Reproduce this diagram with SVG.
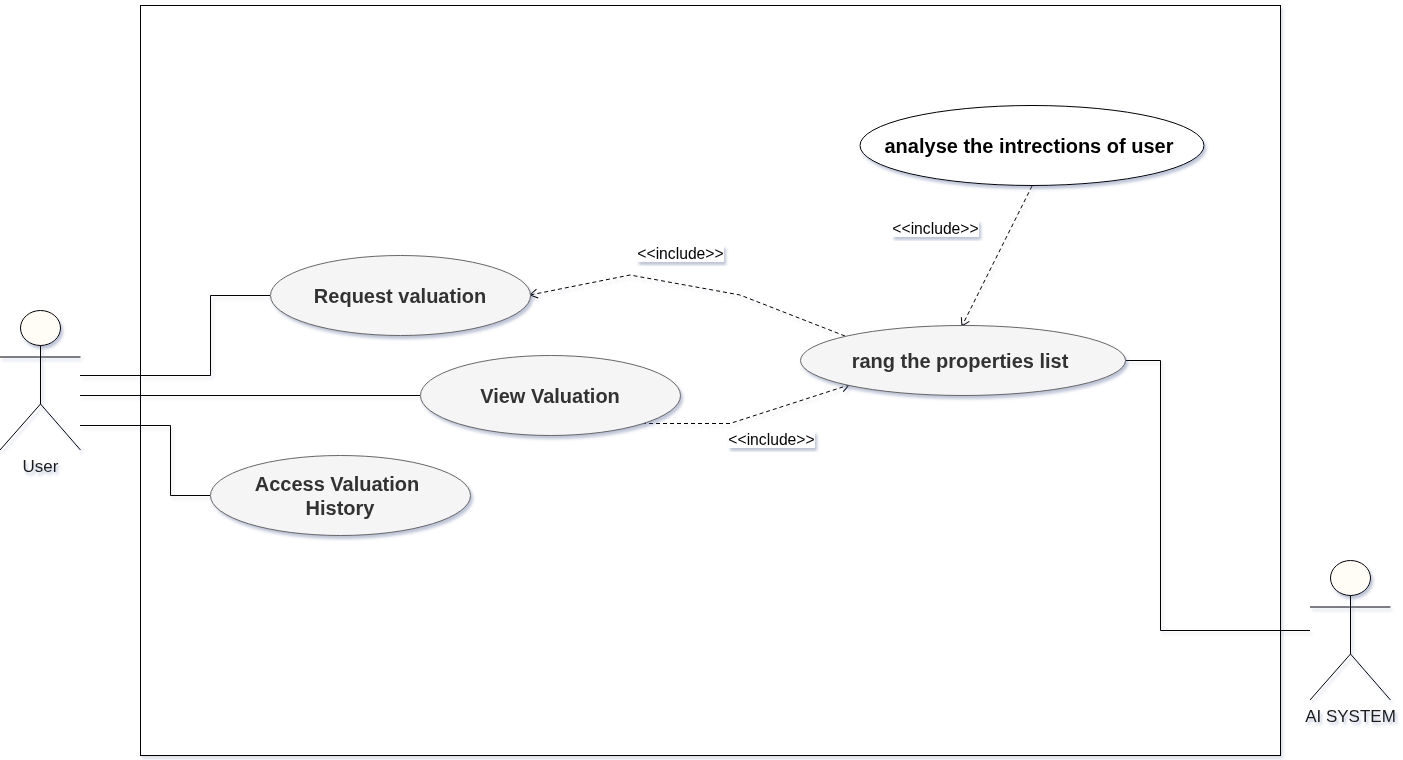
<svg xmlns="http://www.w3.org/2000/svg" width="1403" height="760" viewBox="0 0 1403 760">
<defs>
<filter id="sh" x="-20%" y="-20%" width="140%" height="140%" filterUnits="objectBoundingBox"><feDropShadow dx="2" dy="3" stdDeviation="1.5" flood-color="#5a6a9a" flood-opacity="0.4"/></filter>
<filter id="shl" filterUnits="userSpaceOnUse" x="0" y="0" width="1403" height="760"><feDropShadow dx="2" dy="3" stdDeviation="1.5" flood-color="#5a6a9a" flood-opacity="0.22"/></filter>
<marker id="open" markerUnits="userSpaceOnUse" markerWidth="14" markerHeight="14" refX="10" refY="7" orient="auto"><path d="M2.5 2.500L10 7L2.500 11.500" fill="none" stroke="#000" stroke-width="1"/></marker>
</defs>
<style>
text{font-family:"Liberation Sans",Arial,sans-serif;text-anchor:middle}
.uc{fill:#f5f5f5;stroke:#666;stroke-width:1}
.ut{font-size:20px;font-weight:bold;fill:#333}
.line{fill:none;stroke:#000;stroke-width:1}
.dash{fill:none;stroke:#000;stroke-width:1;stroke-dasharray:4 3;marker-end:url(#open)}
.lab{font-size:15.700px;fill:#000}
.act{font-size:17px;fill:#1a1a1a}
.head{fill:#fffdf5;stroke:#000;stroke-width:1}
</style>
<rect width="1403" height="760" fill="#fff"/>
<g id="system-boundary" filter="url(#shl)"><rect x="140.500" y="5.500" width="1140" height="750" fill="#fff" stroke="#000"/></g>
<g id="connectors" filter="url(#shl)">
<path class="line" d="M80 375.500H210.500V295.500H270"/>
<path class="line" d="M80 395.500H420"/>
<path class="line" d="M80 425.500H170.500V495.500H210"/>
<path class="line" d="M1125 360.500H1160.500V630.500H1310"/>
<path class="dash" d="M845 336L740 295L630 275L530 295"/>
<path class="dash" d="M642 423.500H730L849 385"/>
<path class="dash" d="M1032 186L962 326"/>
</g>
<g id="uc-request" filter="url(#sh)"><ellipse class="uc" cx="400.500" cy="295.500" rx="130" ry="40"/><text class="ut" x="400" y="303">Request valuation</text></g>
<g id="uc-view" filter="url(#sh)"><ellipse class="uc" cx="550.500" cy="395.500" rx="130" ry="40"/><text class="ut" x="550" y="403">View Valuation</text></g>
<g id="uc-history" filter="url(#sh)"><ellipse class="uc" cx="340.500" cy="495.500" rx="130" ry="40"/><text class="ut" x="337" y="491">Access Valuation</text><text class="ut" x="340" y="515">History</text></g>
<g id="uc-rang" filter="url(#sh)"><ellipse class="uc" cx="963" cy="360.500" rx="162.500" ry="35"/><text class="ut" x="960" y="368">rang the properties list</text></g>
<g id="uc-analyse" filter="url(#sh)"><ellipse cx="1032" cy="145.500" rx="172" ry="40" fill="#fff" stroke="#000"/><text x="1029" y="153" font-size="20" font-weight="bold" fill="#000">analyse the intrections of user</text></g>
<g id="lab-include-1" filter="url(#sh)"><rect x="637" y="245" width="87" height="17" fill="#fff"/><text class="lab" x="680.500" y="258.500">&lt;&lt;include&gt;&gt;</text></g>
<g id="lab-include-2" filter="url(#sh)"><rect x="892" y="220" width="87" height="17" fill="#fff"/><text class="lab" x="935.500" y="233.500">&lt;&lt;include&gt;&gt;</text></g>
<g id="lab-include-3" filter="url(#sh)"><rect x="728" y="431" width="87" height="17" fill="#fff"/><text class="lab" x="771.500" y="444.500">&lt;&lt;include&gt;&gt;</text></g>
<g id="actor-user" filter="url(#sh)">
<ellipse class="head" cx="40.500" cy="328" rx="20" ry="17.500"/>
<path class="line" d="M40.500 345.500V404M0 357H80.500M0 450L40.500 404L80.500 450"/>
<text class="act" x="40.500" y="471.500">User</text>
</g>
<g id="actor-ai" filter="url(#sh)">
<ellipse class="head" cx="1350.500" cy="578" rx="20" ry="17.500"/>
<path class="line" d="M1350.500 595.500V654M1310 607H1390.500M1310 700L1350.500 654L1390.500 700"/>
<text class="act" x="1350.500" y="721.500">AI SYSTEM</text>
</g>
</svg>
